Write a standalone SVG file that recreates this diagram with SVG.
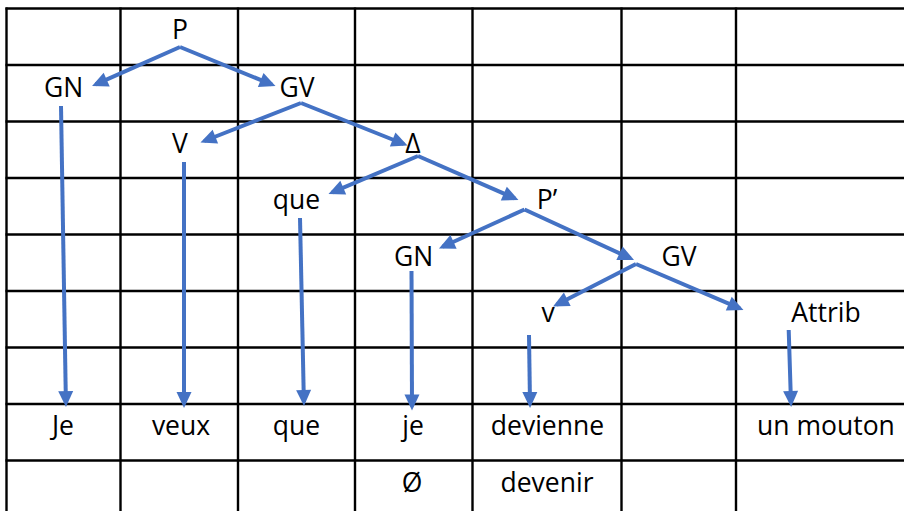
<svg xmlns="http://www.w3.org/2000/svg" width="904" height="511" viewBox="0 0 904 511">
<defs>
<marker id="ah" markerUnits="userSpaceOnUse" markerWidth="16" markerHeight="15" refX="12" refY="7.5" orient="auto" overflow="visible">
<path d="M0,0 L16,7.5 L0,15 z" fill="#4472C4"/>
</marker>
<style>
.g line{stroke:#000;stroke-width:2.4}
.t{font-family:"Open Sans","Noto Sans","Liberation Sans",sans-serif;font-size:26.5px;fill:#000;text-anchor:middle}
.c line{stroke:#4472C4;stroke-width:4;marker-end:url(#ah)}
</style>
</defs>
<rect width="904" height="511" fill="#fff"/>
<g id="grid" class="g">
<line x1="5.5" y1="8.5" x2="904" y2="8.5"/>
<line x1="5.5" y1="65" x2="904" y2="65"/>
<line x1="5.5" y1="121.5" x2="904" y2="121.5"/>
<line x1="5.5" y1="178" x2="904" y2="178"/>
<line x1="5.5" y1="234.5" x2="904" y2="234.5"/>
<line x1="5.5" y1="291" x2="904" y2="291"/>
<line x1="5.5" y1="347.5" x2="904" y2="347.5"/>
<line x1="5.5" y1="404" x2="904" y2="404"/>
<line x1="5.5" y1="460.5" x2="904" y2="460.5"/>
<line x1="6.5" y1="7.5" x2="6.5" y2="511"/>
<line x1="120.5" y1="7.5" x2="120.5" y2="511"/>
<line x1="238" y1="7.5" x2="238" y2="511"/>
<line x1="355" y1="7.5" x2="355" y2="511"/>
<line x1="472.5" y1="7.5" x2="472.5" y2="511"/>
<line x1="621.5" y1="7.5" x2="621.5" y2="511"/>
<line x1="736" y1="7.5" x2="736" y2="511"/>
</g>
<g id="connectors" class="c">
<line x1="180" y1="47" x2="95.7" y2="84.4"/>
<line x1="180" y1="47" x2="271.8" y2="84.5"/>
<line x1="301" y1="103" x2="204.2" y2="141"/>
<line x1="301" y1="103" x2="403.8" y2="144"/>
<line x1="418" y1="156" x2="332.2" y2="192.4"/>
<line x1="418" y1="156" x2="514.8" y2="198.4"/>
<line x1="524.5" y1="209.5" x2="442.6" y2="246.8"/>
<line x1="524.5" y1="209.5" x2="630.4" y2="258.3"/>
<line x1="636" y1="264" x2="556.6" y2="304.7"/>
<line x1="636" y1="264" x2="739.8" y2="308.4"/>
<line x1="61" y1="106" x2="65.9" y2="403"/>
<line x1="184" y1="162" x2="184" y2="404"/>
<line x1="300" y1="218" x2="303.9" y2="402"/>
<line x1="411.5" y1="271" x2="412" y2="406.5"/>
<line x1="529" y1="335" x2="530" y2="404"/>
<line x1="788.7" y1="330" x2="791" y2="403"/>
</g>
<g id="n-P"><text class="t" x="180" y="39">P</text></g>
<g id="n-GN1"><text class="t" x="63.5" y="97">GN</text></g>
<g id="n-GV1"><text class="t" x="297" y="97">GV</text></g>
<g id="n-V"><text class="t" x="180" y="153">V</text></g>
<g id="n-Delta"><text class="t" x="413" y="153">Δ</text></g>
<g id="n-que1"><text class="t" x="296.5" y="209">que</text></g>
<g id="n-P2"><text class="t" x="547" y="209">P’</text></g>
<g id="n-GN2"><text class="t" x="413.5" y="266">GN</text></g>
<g id="n-GV2"><text class="t" x="679" y="266">GV</text></g>
<g id="n-v"><text class="t" x="548" y="322">v</text></g>
<g id="n-Attrib"><text class="t" x="826" y="322">Attrib</text></g>
<g id="w-Je"><text class="t" x="63" y="435">Je</text></g>
<g id="w-veux"><text class="t" x="181" y="435">veux</text></g>
<g id="w-que"><text class="t" x="296.5" y="435">que</text></g>
<g id="w-je"><text class="t" x="413" y="435">je</text></g>
<g id="w-devienne"><text class="t" x="547.5" y="435">devienne</text></g>
<g id="w-unmouton"><text class="t" x="826" y="435">un mouton</text></g>
<g id="w-zero"><text class="t" x="412" y="492">Ø</text></g>
<g id="w-devenir"><text class="t" x="547" y="492">devenir</text></g>
</svg>
